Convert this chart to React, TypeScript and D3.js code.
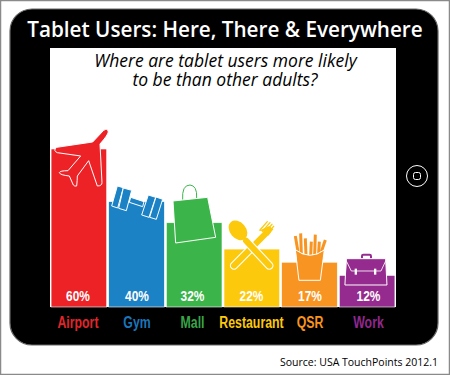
import React from "react";
import * as d3 from "d3";

const categories = ["Airport", "Gym", "Mall", "Restaurant", "QSR", "Work"];
const values = [60, 40, 32, 22, 17, 12];
const colors = ["#ed2227", "#1b82c5", "#3bb54a", "#fcc90d", "#f89522", "#962b8f"];
const labelColors = ["#e1262b", "#1b75bb", "#39a548", "#fcc90d", "#f7941e", "#92278f"];
const labelCenters = [78, 137, 192.5, 251.5, 310, 368.5];

const y = d3.scaleLinear().domain([0, 60]).range([307, 149]);
const x = d3.scaleBand<string>().domain(categories).range([50.5, 395.5]).paddingInner(0.035).paddingOuter(0.01);

const SANS = "'Open Sans', 'DejaVu Sans', sans-serif";
const NARROW = "'Liberation Sans', sans-serif";

function Icons() {
  return (
    <g>
      <g transform="translate(40,120) scale(0.3333)" strokeLinejoin="round">
        <path d="M190,32 Q203,22 205,36 Q203,46 180,72 L186,188 Q186,198 172,198 L146,122 L112,168 Q112,180 110,198 Q104,200 100,195 L88,168 Q60,165 58,158 Q60,152 84,152 L122,108 L52,98 Q38,92 50,82 L158,66 Z" fill={colors[0]} stroke="#fff" strokeWidth={3} />
        <g fill={colors[1]} stroke="#fff" strokeWidth={3}>
          <path d="M272,232 L312,245 L308,260 L268,247 Z" />
          <path d="M232,198 L250,203 L233,264 L215,258 Z" />
          <path d="M250,204 L275,211 L259,272 L236,265 Z" />
          <path d="M325,225 L347,232 L327,292 L305,285 Z" />
          <path d="M348,231 L368,238 L349,298 L329,292 Z" />
        </g>
        <path d="M428,240 Q425,195 450,195 Q472,197 470,234" fill="none" stroke={colors[2]} strokeWidth={3} />
        <path d="M399,243 L503,232 L527,352 L407,369 Z" fill={colors[2]} stroke="#fff" strokeWidth={3} />
      </g>
      <g transform="translate(210,170) scale(0.3333)" strokeLinecap="round">
        <line x1={173} y1={185} x2={72} y2={287} stroke="#fff" strokeWidth={25} />
        <line x1={173} y1={185} x2={72} y2={287} stroke={colors[3]} strokeWidth={18} />
        <line x1={108} y1={212} x2={178} y2={287} stroke="#fff" strokeWidth={25} />
        <line x1={108} y1={212} x2={178} y2={287} stroke={colors[3]} strokeWidth={18} />
        <ellipse cx={84} cy={181} rx={24} ry={33} transform="rotate(-40 84 181)" fill={colors[3]} />
        <path d="M145,183 Q160,178 174,198 L190,178 L178,168 Z" fill={colors[3]} />
        <g stroke={colors[3]} strokeWidth={4}>
          <line x1={150} y1={180} x2={172} y2={155} />
          <line x1={157} y1={184} x2={180} y2={158} />
          <line x1={164} y1={188} x2={186} y2={163} />
          <line x1={171} y1={192} x2={191} y2={169} />
        </g>
        <g stroke={colors[4]} strokeWidth={9} strokeLinecap="butt">
          <line x1={264} y1={245} x2={256} y2={198} />
          <line x1={274} y1={250} x2={272} y2={190} />
          <line x1={288} y1={255} x2={286} y2={205} />
          <line x1={302} y1={258} x2={304} y2={215} />
          <line x1={314} y1={255} x2={316} y2={194} />
          <line x1={326} y1={250} x2={328} y2={215} />
          <line x1={334} y1={245} x2={346} y2={210} />
        </g>
        <path d="M257,240 Q300,272 343,240 L331,331 L268,331 Z" fill={colors[4]} stroke="#fff" strokeWidth={3} strokeLinejoin="round" />
        <rect x={456} y={254} width={27} height={16} rx={4} fill="none" stroke={colors[5]} strokeWidth={6} />
        <path d="M410,266 L527,266 L531,345 L406,345 Z" fill={colors[5]} stroke="#fff" strokeWidth={3} strokeLinejoin="round" />
        <path d="M409,273 L424,303 L513,303 L527,273" stroke="#fff" strokeWidth={2.5} fill="none" />
        <rect x={434} y={296} width={7} height={18} fill="#fff" />
        <rect x={492} y={296} width={7} height={18} fill="#fff" />
      </g>
    </g>
  );
}

export default function App() {
  return (
    <svg width={450} height={375} style={{ position: "absolute", left: 0, top: 0, background: "#fff" }}>
      <rect x={0.5} y={0.5} width={449} height={374} fill="#fff" stroke="#8a8a8a" strokeWidth={1.5} />
      <rect x={10} y={9} width={428} height={336} rx={22} fill="#000" stroke="#666" strokeWidth={1.2} />
      <rect x={50} y={48} width={346} height={259} fill="#fff" />
      <text x={225} y={36.5} textAnchor="middle" fill="#fff" fontFamily={SANS} fontSize={20.7} fontWeight={600}>Tablet Users: Here, There &amp; Everywhere</text>
      <text fontFamily={SANS} fontStyle="italic" fontSize={17.5} fill="#000" textAnchor="middle">
        <tspan x={225.5} y={66.5}>Where are tablet users more likely</tspan>
        <tspan x={225} y={85.5}>to be than other adults?</tspan>
      </text>
      {categories.map((c, i) => (
        <rect key={c} x={x(c)} y={y(values[i])} width={x.bandwidth()} height={y(0) - y(values[i])} fill={colors[i]} stroke="#fff" strokeWidth={0.6} />
      ))}
      <Icons />
      {categories.map((c, i) => (
        <text key={c} transform={`translate(${labelCenters[i]},301) scale(0.85,1)`} textAnchor="middle" fill="#fff" fontFamily={NARROW} fontWeight={700} fontSize={14}>{values[i]}%</text>
      ))}
      {categories.map((c, i) => (
        <text key={c} transform={`translate(${labelCenters[i]},328) scale(0.77,1)`} textAnchor="middle" fill={labelColors[i]} fontFamily={NARROW} fontWeight={700} fontSize={16}>{c}</text>
      ))}
      <circle cx={417} cy={176} r={10.5} fill="none" stroke="#fff" strokeWidth={1} />
      <rect x={413.5} y={172.5} width={7} height={7} rx={2} fill="none" stroke="#fff" strokeWidth={1} />
      <text x={438} y={366} textAnchor="end" fill="#000" fontFamily={SANS} fontSize={10.5}>Source: USA TouchPoints 2012.1</text>
    </svg>
  );
}
